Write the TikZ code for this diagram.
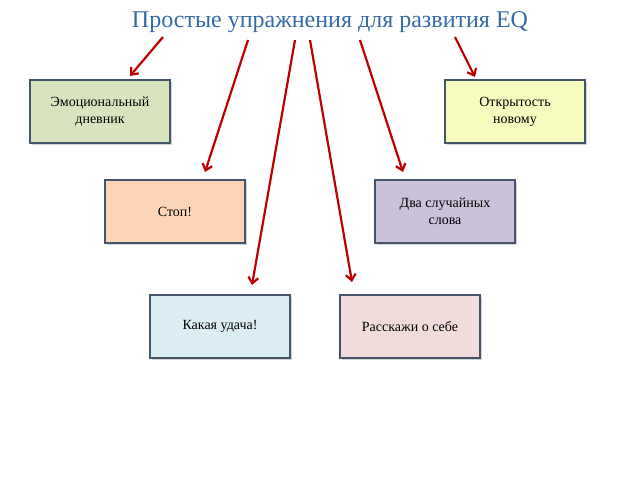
\documentclass[tikz,border=0pt]{standalone}
\usepackage{fontspec}
\setmainfont{Liberation Serif}
\usetikzlibrary{arrows.meta,shadows}
\definecolor{bd}{HTML}{44546A}
\definecolor{ar}{HTML}{C00000}
\tikzset{
 box/.style={draw=bd,line width=1.2pt,minimum width=140pt,minimum height=63pt,align=center,font=\fontsize{14}{17}\selectfont,drop shadow={shadow xshift=1.5pt,shadow yshift=-1.5pt,opacity=0.35}},
 arr/.style={draw=ar,line width=2.2pt,-{Straight Barb[length=6pt,width=10pt]}}
}
\begin{document}
\begin{tikzpicture}[x=1pt,y=-1pt]
\useasboundingbox (0,0) rectangle (640,480);
\node[font=\fontsize{24}{28}\selectfont,text=cyan!50!blue!80!black] (t) at (330,22) {Простые упражнения для развития EQ};
\node[box,fill={rgb,255:red,215;green,228;blue,189}] (a) at (100,111.5) {Эмоциональный\\дневник};
\node[box,fill={rgb,255:red,246;green,252;blue,190}] (b) at (515,111.5) {Открытость\\новому};
\node[box,fill={rgb,255:red,251;green,213;blue,181}] (c) at (175,211.5) {Стоп!};
\node[box,fill={rgb,255:red,204;green,193;blue,218}] (d) at (445,211.5) {Два случайных\\слова};
\node[box,fill={rgb,255:red,219;green,238;blue,244}] (e) at (220,326.5) {Какая удача!};
\node[box,fill={rgb,255:red,242;green,220;blue,219}] (f) at (410,326.5) {Расскажи о себе};
\coordinate (a1) at (130,76); \coordinate (b1) at (475,77);
\coordinate (c1) at (205,172); \coordinate (d1) at (403,172);
\coordinate (e1) at (252,285); \coordinate (f1) at (352,282);
\draw[arr] (163,37) -- (a1);
\draw[arr] (455,37) -- (b1);
\draw[arr] (248,40) -- (c1);
\draw[arr] (360,40) -- (d1);
\draw[arr] (295,40) -- (e1);
\draw[arr] (310,40) -- (f1);
\end{tikzpicture}
\end{document}
